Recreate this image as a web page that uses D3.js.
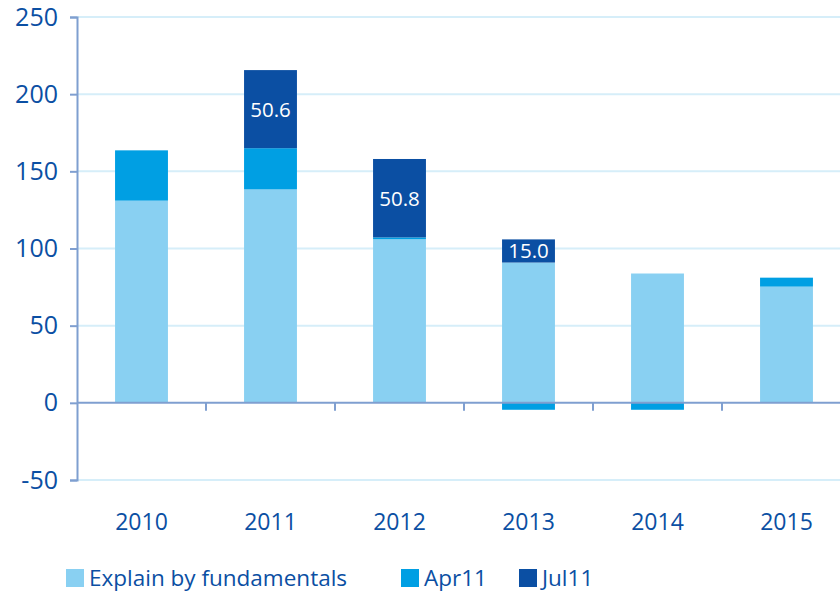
<!DOCTYPE html>
<html>
<head>
  <meta charset="utf-8">
  <script src="https://d3js.org/d3.v7.min.js"></script>
  <style>
    body { margin: 0; background: #fff; }
    text { font-family: "Open Sans", sans-serif; fill: #0b4fa3; }
  </style>
</head>
<body>
<script>
  // chart data
  var years = ["2010", "2011", "2012", "2013", "2014", "2015"];
  var fundamentals = [131, 138.3, 106, 90.9, 83.8, 75.3];
  var apr11 = [32.6, 26.7, 1.2, -4.5, -4.5, 5.8];
  var jul11 = [0, 50.6, 50.8, 15.0, 0, 0];
  var yTicks = [-50, 0, 50, 100, 150, 200, 250];
  var seriesNames = ["Explain by fundamentals", "Apr11", "Jul11"];
  var colors = ["#89d0f2", "#009fe3", "#0b4fa3"];

  function draw() {
    var width = 840, height = 592;
    var left = 77, right = 851, plotTop = 17, plotBottom = 480;

    var svg = d3.select("body").append("svg")
      .attr("width", width)
      .attr("height", height);

    var x = d3.scaleBand()
      .domain(years)
      .range([left, right])
      .paddingInner(0.59)
      .paddingOuter(0.295);

    var y = d3.scaleLinear()
      .domain([-50, 250])
      .range([plotBottom, plotTop]);

    // gridlines
    svg.append("g").selectAll("line")
      .data(yTicks.filter(function (d) { return d != 0; }))
      .enter().append("line")
      .attr("x1", left).attr("x2", width)
      .attr("y1", function (d) { return y(d); })
      .attr("y2", function (d) { return y(d); })
      .style("stroke", "#d6eef9")
      .style("stroke-width", 2);

    // stacked segments, negatives stack downward
    var segs = [];
    years.forEach(function (yr, i) {
      var pos = 0, neg = 0;
      [fundamentals[i], apr11[i], jul11[i]].forEach(function (v, k) {
        if (v >= 0) { segs.push({year: yr, k: k, v: v, y0: pos, y1: pos + v}); pos += v; }
        else { segs.push({year: yr, k: k, v: v, y0: neg + v, y1: neg}); neg += v; }
      });
    });

    svg.append("g").selectAll("rect")
      .data(segs.filter(function (d) { return d.v != 0; }))
      .enter().append("rect")
      .attr("x", function (d) { return x(d.year); })
      .attr("width", x.bandwidth())
      .attr("y", function (d) { return y(d.y1); })
      .attr("height", function (d) { return y(d.y0) - y(d.y1); })
      .attr("fill", function (d) { return colors[d.k]; });

    // labels inside Jul11 segments
    svg.append("g").selectAll("text")
      .data(segs.filter(function (d) { return d.k == 2 && d.v != 0; }))
      .enter().append("text")
      .attr("x", function (d) { return x(d.year) + x.bandwidth() / 2; })
      .attr("y", function (d) { return (y(d.y0) + y(d.y1)) / 2; })
      .attr("dy", "0.36em")
      .attr("text-anchor", "middle")
      .style("font-size", "20.5px")
      .style("fill", "#fff")
      .text(function (d) { return d.v.toFixed(1); });

    // y axis
    var yAxis = svg.append("g")
      .attr("transform", "translate(" + left + ",0)")
      .call(d3.axisLeft(y).tickValues(yTicks).tickSize(7).tickPadding(12)
        .tickFormat(function (d) { return String(d); }));
    yAxis.select(".domain").style("stroke", "#7f9fd0").style("stroke-width", 2);
    yAxis.selectAll("line").style("stroke", "#7f9fd0").style("stroke-width", 2);
    yAxis.selectAll("text").style("font-size", "25px").style("fill", "#0b4fa3");

    // zero line with tick marks between categories
    var step = x.step();
    svg.append("line")
      .attr("x1", left).attr("x2", width)
      .attr("y1", y(0)).attr("y2", y(0))
      .style("stroke", "#7f9fd0").style("stroke-width", 2);
    svg.append("g").selectAll("line")
      .data(years.slice(1))
      .enter().append("line")
      .attr("x1", function (d) { return x(d) - step * x.paddingInner() / 2; })
      .attr("x2", function (d) { return x(d) - step * x.paddingInner() / 2; })
      .attr("y1", y(0)).attr("y2", y(0) + 8)
      .style("stroke", "#7f9fd0").style("stroke-width", 2);

    // x labels
    svg.append("g").selectAll("text")
      .data(years)
      .enter().append("text")
      .attr("x", function (d) { return x(d) + x.bandwidth() / 2; })
      .attr("y", 522)
      .attr("dy", "0.36em")
      .attr("text-anchor", "middle")
      .style("font-size", "23px")
      .text(function (d) { return d; });

    // legend
    var legendX = [66, 401, 519];
    var lg = svg.append("g").selectAll("g")
      .data(seriesNames)
      .enter().append("g")
      .attr("transform", function (d, i) { return "translate(" + legendX[i] + ",569)"; });
    lg.append("rect")
      .attr("width", 18).attr("height", 18)
      .attr("fill", function (d, i) { return colors[i]; });
    lg.append("text")
      .attr("x", 23).attr("y", 9)
      .attr("dy", "0.36em")
      .style("font-size", "22.5px")
      .text(function (d) { return d; });
  }

  draw();
</script>
</body>
</html>
